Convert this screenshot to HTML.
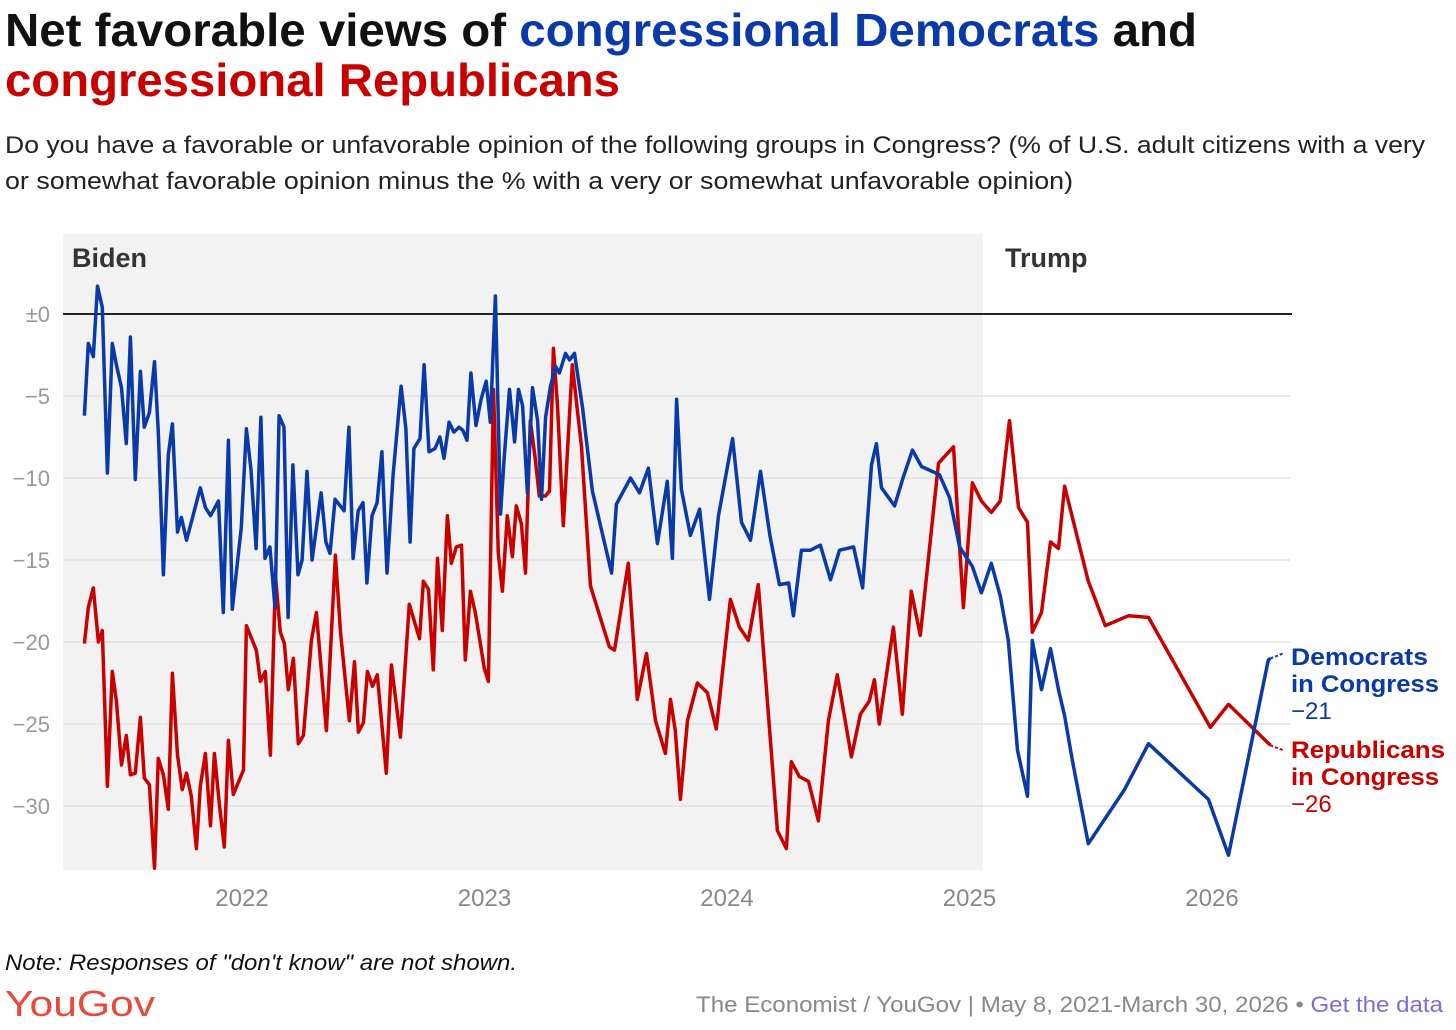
<!DOCTYPE html>
<html><head><meta charset="utf-8"><style>
html,body{margin:0;padding:0;background:#fff;}
svg{display:block;font-family:"Liberation Sans",sans-serif;}
</style></head><body>
<svg id="chart" width="1456" height="1030" viewBox="0 0 1456 1030" xmlns="http://www.w3.org/2000/svg">
<text x="5" y="46" font-size="46" font-weight="bold" textLength="1192" lengthAdjust="spacingAndGlyphs" fill="#111">Net favorable views of <tspan fill="#0a3aa8">congressional Democrats</tspan> and</text>
<text x="5" y="96" font-size="46" font-weight="bold" textLength="615" lengthAdjust="spacingAndGlyphs" fill="#c80000">congressional Republicans</text>
<text x="5" y="153" font-size="24" textLength="1420" lengthAdjust="spacingAndGlyphs" fill="#222">Do you have a favorable or unfavorable opinion of the following groups in Congress? (% of U.S. adult citizens with a very</text>
<text x="5" y="189" font-size="24" textLength="1068" lengthAdjust="spacingAndGlyphs" fill="#222">or somewhat favorable opinion minus the % with a very or somewhat unfavorable opinion)</text>
<rect x="63" y="234" width="920" height="636" fill="#f2f2f2"/>
<text x="72" y="267" font-size="27" font-weight="bold" fill="#333">Biden</text>
<text x="1005" y="267" font-size="27" font-weight="bold" fill="#333">Trump</text>
<g id="grid"></g><g id="series"></g><g id="labels"></g>
<text x="5" y="970" font-size="22" font-style="italic" fill="#111" textLength="512" lengthAdjust="spacingAndGlyphs">Note: Responses of "don't know" are not shown.</text>
<text x="5" y="1016" font-size="36" fill="#e8493a" textLength="150" lengthAdjust="spacingAndGlyphs">YouGov</text>
<text x="1443" y="1012" font-size="22" fill="#888" text-anchor="end" textLength="747" lengthAdjust="spacingAndGlyphs">The Economist / YouGov | May 8, 2021-March 30, 2026 • <tspan fill="#7b6fd6">Get the data</tspan></text>
</svg>
<script>
const yTicks=[0,-5,-10,-15,-20,-25,-30];
const yTickLabels=["±0","−5","−10","−15","−20","−25","−30"];
const xTicks=[2022,2023,2024,2025,2026];
const demDates=[2021.350,2021.366,2021.387,2021.404,2021.424,2021.445,2021.465,2021.482,2021.503,2021.523,2021.540,2021.560,2021.581,2021.597,2021.618,2021.639,2021.655,2021.676,2021.696,2021.713,2021.734,2021.750,2021.771,2021.791,2021.828,2021.849,2021.870,2021.903,2021.923,2021.944,2021.960,2021.997,2022.018,2022.037,2022.058,2022.078,2022.095,2022.115,2022.136,2022.153,2022.173,2022.190,2022.210,2022.231,2022.248,2022.268,2022.289,2022.326,2022.346,2022.363,2022.384,2022.421,2022.441,2022.458,2022.479,2022.499,2022.515,2022.536,2022.557,2022.577,2022.598,2022.623,2022.656,2022.676,2022.693,2022.709,2022.734,2022.751,2022.771,2022.796,2022.816,2022.833,2022.854,2022.874,2022.895,2022.911,2022.928,2022.944,2022.965,2022.986,2023.007,2023.024,2023.045,2023.066,2023.082,2023.103,2023.124,2023.140,2023.157,2023.177,2023.198,2023.219,2023.235,2023.252,2023.272,2023.293,2023.309,2023.334,2023.351,2023.371,2023.404,2023.445,2023.524,2023.544,2023.602,2023.639,2023.676,2023.713,2023.754,2023.775,2023.792,2023.812,2023.849,2023.887,2023.928,2023.965,2024.023,2024.060,2024.097,2024.138,2024.177,2024.216,2024.254,2024.274,2024.307,2024.344,2024.385,2024.427,2024.464,2024.522,2024.559,2024.596,2024.616,2024.637,2024.691,2024.728,2024.765,2024.802,2024.876,2024.918,2024.959,2025.012,2025.049,2025.090,2025.127,2025.160,2025.198,2025.239,2025.259,2025.297,2025.334,2025.367,2025.392,2025.424,2025.490,2025.639,2025.738,2025.985,2026.068,2026.232,2026.241];
const demValues=[-6.2,-1.8,-2.6,1.7,0.4,-9.7,-1.8,-3.1,-4.5,-7.9,-1.4,-10.1,-3.5,-6.9,-6.0,-2.9,-7.2,-15.9,-8.6,-6.7,-13.3,-12.4,-13.8,-12.7,-10.6,-11.8,-12.3,-11.4,-18.2,-7.7,-18.0,-13.0,-7.0,-9.5,-14.3,-6.3,-14.9,-14.2,-17.9,-6.2,-6.9,-18.5,-9.2,-15.9,-15.0,-9.6,-15.0,-10.9,-13.9,-14.6,-11.3,-12.0,-6.9,-14.9,-12.0,-11.5,-16.4,-12.3,-11.5,-8.4,-15.8,-9.8,-4.4,-7.0,-13.9,-8.2,-7.6,-3.1,-8.4,-8.2,-7.5,-8.8,-6.6,-7.2,-6.9,-7.1,-7.7,-3.6,-6.8,-5.2,-4.1,-6.6,1.1,-12.2,-8.6,-4.6,-7.8,-4.6,-5.6,-10.9,-4.5,-6.5,-11.3,-6.3,-4.4,-3.2,-3.6,-2.4,-2.8,-2.4,-5.7,-10.8,-15.8,-11.6,-10.0,-10.9,-9.4,-14.0,-10.2,-14.9,-5.2,-10.7,-13.5,-11.9,-17.4,-12.3,-7.6,-12.7,-13.8,-9.6,-13.5,-16.5,-16.4,-18.4,-14.4,-14.4,-14.1,-16.2,-14.4,-14.2,-16.7,-9.2,-7.9,-10.6,-11.7,-9.9,-8.3,-9.3,-9.8,-11.2,-14.2,-15.4,-17.0,-15.2,-17.2,-19.9,-26.6,-29.4,-19.9,-22.9,-20.4,-22.9,-24.5,-27.2,-32.3,-29.0,-26.2,-29.6,-33.0,-21.1,-21.0];
const repDates=[2021.350,2021.366,2021.387,2021.408,2021.424,2021.445,2021.465,2021.482,2021.503,2021.523,2021.540,2021.560,2021.581,2021.597,2021.618,2021.639,2021.655,2021.676,2021.696,2021.713,2021.734,2021.754,2021.771,2021.791,2021.812,2021.828,2021.849,2021.870,2021.886,2021.907,2021.927,2021.944,2021.964,2022.006,2022.018,2022.059,2022.076,2022.096,2022.117,2022.138,2022.158,2022.175,2022.191,2022.212,2022.232,2022.253,2022.286,2022.307,2022.348,2022.385,2022.406,2022.443,2022.464,2022.480,2022.501,2022.517,2022.538,2022.558,2022.595,2022.616,2022.653,2022.690,2022.732,2022.748,2022.769,2022.789,2022.806,2022.826,2022.847,2022.863,2022.884,2022.905,2022.921,2022.942,2022.962,2022.999,2023.016,2023.037,2023.057,2023.074,2023.094,2023.115,2023.131,2023.152,2023.169,2023.189,2023.210,2023.226,2023.251,2023.268,2023.284,2023.301,2023.325,2023.362,2023.400,2023.437,2023.515,2023.536,2023.593,2023.630,2023.668,2023.705,2023.746,2023.767,2023.787,2023.808,2023.837,2023.878,2023.919,2023.956,2024.014,2024.051,2024.088,2024.129,2024.167,2024.208,2024.245,2024.265,2024.298,2024.336,2024.377,2024.418,2024.455,2024.513,2024.550,2024.587,2024.608,2024.628,2024.686,2024.723,2024.760,2024.797,2024.872,2024.934,2024.975,2025.012,2025.049,2025.090,2025.127,2025.165,2025.202,2025.239,2025.259,2025.297,2025.334,2025.367,2025.392,2025.490,2025.560,2025.655,2025.738,2025.993,2026.068,2026.241];
const repValues=[-20.1,-17.9,-16.7,-20.0,-19.3,-28.8,-21.8,-23.6,-27.5,-25.7,-28.1,-28.0,-24.6,-28.3,-28.7,-33.8,-27.1,-28.1,-30.2,-21.9,-26.9,-29.0,-28.0,-29.4,-32.6,-28.8,-26.8,-31.2,-26.8,-29.9,-32.5,-26.0,-29.3,-27.8,-19.0,-20.5,-22.4,-21.8,-26.9,-16.0,-19.4,-20.1,-22.9,-21.0,-26.2,-25.7,-19.9,-18.2,-25.4,-14.7,-19.4,-24.8,-21.2,-25.5,-24.9,-21.8,-22.7,-22.0,-28.0,-21.4,-25.8,-17.7,-19.8,-16.3,-16.8,-21.7,-14.9,-19.3,-12.3,-15.2,-14.2,-14.1,-21.1,-16.9,-18.2,-21.6,-22.4,-4.6,-14.6,-16.9,-12.3,-14.8,-11.7,-12.8,-15.8,-6.5,-8.9,-11.1,-11.1,-10.8,-2.1,-5.6,-12.9,-3.1,-8.1,-16.6,-20.3,-20.5,-15.2,-23.5,-20.7,-24.8,-26.8,-23.5,-25.4,-29.6,-24.8,-22.5,-23.1,-25.3,-17.4,-19.1,-19.9,-16.5,-23.7,-31.5,-32.6,-27.3,-28.2,-28.5,-30.9,-24.8,-22.0,-27.0,-24.4,-23.6,-22.3,-25.0,-19.1,-24.4,-16.9,-19.6,-9.1,-8.1,-17.9,-10.3,-11.4,-12.1,-11.4,-6.5,-11.8,-12.7,-19.4,-18.2,-13.9,-14.3,-10.5,-16.3,-19.0,-18.4,-18.5,-25.2,-23.8,-26.3];
const NS="http://www.w3.org/2000/svg";
function xs(t){return 242+(t-2022)*242.5;}
function ys(v){return 314-v*16.4;}
function mk(tag,attrs,parent,text){const e=document.createElementNS(NS,tag);for(const k in attrs)e.setAttribute(k,attrs[k]);if(text!==undefined)e.textContent=text;parent.appendChild(e);return e;}
const grid=document.getElementById('grid');
yTicks.forEach((v,i)=>{
  const l=mk('line',{x1:63,x2:v===0?1292:1290,y1:ys(v),y2:ys(v),stroke:v===0?'#222':'#e2e2e2','stroke-width':v===0?2:1.5},grid);
  
  
  const t=mk('text',{x:50,y:ys(v)+8,'font-size':22,fill:'#999','text-anchor':'end'},grid,yTickLabels[i]);
  
  
});
xTicks.forEach(yr=>{
  const t=mk('text',{x:xs(yr),y:906,'font-size':24,fill:'#888','text-anchor':'middle'},grid,String(yr));
  
  
});
const series=document.getElementById('series');
function line(dates,vals,color,name){
  const d=dates.map((t,i)=>(i?'L':'M')+xs(t).toFixed(1)+','+ys(vals[i]).toFixed(1)).join('');
  const p=mk('path',{d:d,fill:'none',stroke:color,'stroke-width':3.5,'stroke-linejoin':'round'},series);
  
  
  return p;
}
line(repDates,repValues,'#c80000','republicans-line');
line(demDates,demValues,'#0a3aa8','democrats-line');
const labels=document.getElementById('labels');
const dEnd=demValues[demValues.length-1], rEnd=repValues[repValues.length-1];
const dx=xs(demDates[demDates.length-1]), rx=xs(repDates[repDates.length-1]);
const dl=mk('line',{x1:dx,y1:ys(dEnd),x2:dx+13,y2:ys(dEnd)-5,stroke:'#0a3aa8','stroke-width':2,'stroke-dasharray':'3 2'},labels);


const rl=mk('line',{x1:rx,y1:ys(rEnd),x2:rx+13,y2:ys(rEnd)+5,stroke:'#c80000','stroke-width':2,'stroke-dasharray':'3 2'},labels);


function lab(x,y,txt,color,bold,name,w){
  const a={x:x,y:y,'font-size':24,fill:color};
  if(bold)a['font-weight']='bold';
  if(w){a.textLength=w;a.lengthAdjust='spacingAndGlyphs';}
  const t=mk('text',a,labels,txt);
  
  
}
lab(1291,665,'Democrats','#0a3aa8',true,'democrats-label',137);
lab(1291,692,'in Congress','#0a3aa8',true,'democrats-label-line-2',148);
lab(1291,719,'−'+Math.abs(Math.round(dEnd)),'#0a3aa8',false,'democrats-end-value');
lab(1291,758,'Republicans','#c80000',true,'republicans-label',154);
lab(1291,785,'in Congress','#c80000',true,'republicans-label-line-2',148);
lab(1291,812,'−'+Math.abs(Math.round(rEnd)),'#c80000',false,'republicans-end-value');
</script>
</body></html>
